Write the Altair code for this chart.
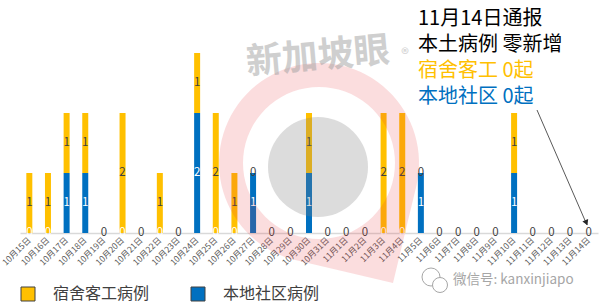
import math
import altair as alt
import pandas as pd

FONT = "Noto Sans CJK SC"

dates = ["10月15日", "10月16日", "10月17日", "10月18日", "10月19日", "10月20日",
         "10月21日", "10月22日", "10月23日", "10月24日", "10月25日", "10月26日",
         "10月27日", "10月28日", "10月29日", "10月30日", "10月31日", "11月1日",
         "11月2日", "11月3日", "11月4日", "11月5日", "11月6日", "11月7日",
         "11月8日", "11月9日", "11月10日", "11月11日", "11月12日", "11月13日",
         "11月14日"]
dorm = [1, 1, 1, 1, 0, 2, 0, 1, 0, 1, 2, 1, 0, 0, 0, 1, 0, 0, 0, 2, 2, 0, 0, 0, 0, 0, 1, 0, 0, 0, 0]
comm = [0, 0, 1, 1, 0, 0, 0, 0, 0, 2, 0, 0, 1, 0, 0, 1, 0, 0, 0, 0, 0, 1, 0, 0, 0, 0, 1, 0, 0, 0, 0]
series = ["宿舍客工病例", "本地社区病例"]
colors = ["#FFC000", "#0070C0"]

title_lines = ["11月14日通报", "本土病例 零新增", "宿舍客工 0起", "本地社区 0起"]
title_colors = ["#000000", "#000000", "#FFC000", "#0070C0"]

rows = []
for d, a, b in zip(dates, dorm, comm):
    rows.append({"date": d, "series": series[1], "value": b, "ord": 0})
    rows.append({"date": d, "series": series[0], "value": a, "ord": 1})
df = pd.DataFrame(rows)

W, H = 578, 198

xenc = alt.X("date:N", sort=dates,
             scale=alt.Scale(paddingInner=0, paddingOuter=0),
             axis=alt.Axis(title=None, labelAngle=-45, labelAlign="right",
                           labelBaseline="middle", labelFontSize=8.5,
                           labelColor="#595959", labelFont=FONT, ticks=False,
                           labelPadding=5, domainColor="#D9D9D9",
                           domainWidth=1.5, grid=False))
yscale = alt.Scale(domain=[0, 3.3])

base = alt.Chart(df).transform_stack(
    stack="value", as_=["v0", "v1"], groupby=["date"],
    sort=[alt.SortField("ord", order="ascending")]
).transform_calculate(mid="(datum.v0 + datum.v1) / 2")

bars = base.mark_bar(size=6).encode(
    x=xenc,
    y=alt.Y("v0:Q", scale=yscale, axis=None),
    y2="v1:Q",
    color=alt.Color("series:N", scale=alt.Scale(domain=series, range=colors),
                    legend=alt.Legend(title=None, orient="none", legendX=0, legendY=251,
                                      direction="horizontal", symbolType="square",
                                      symbolSize=196, symbolStrokeColor="#404040",
                                      symbolStrokeWidth=1, labelFontSize=16,
                                      labelFont=FONT, labelColor="#404040",
                                      labelOffset=17, columnPadding=39, padding=0,
                                      symbolOpacity=1)),
)

lab_comm = base.transform_filter(alt.datum.ord == 0).mark_text(
    fontSize=11.5, font=FONT, color="white", baseline="middle").encode(
    x=alt.X("date:N", sort=dates),
    y=alt.Y("mid:Q", scale=yscale, axis=None), text="value:Q")
lab_dorm = base.transform_filter(alt.datum.ord == 1).mark_text(
    fontSize=11.5, font=FONT, color="#404040", baseline="middle").encode(
    x=alt.X("date:N", sort=dates),
    y=alt.Y("mid:Q", scale=yscale, axis=None), text="value:Q")

one = pd.DataFrame({"k": [0]})

layers = [bars, lab_comm, lab_dorm]

# title annotation block (top right)
for i, (t, c) in enumerate(zip(title_lines, title_colors)):
    layers.append(alt.Chart(one).mark_text(
        text=t, fontSize=20, font=FONT, color=c, align="left", baseline="middle"
    ).encode(x=alt.value(398), y=alt.value(-16 + 26 * i)))

# arrow
layers.append(alt.Chart(one).mark_rule(color="#595959", strokeWidth=1).encode(
    x=alt.value(517), y=alt.value(75), x2=alt.value(567), y2=alt.value(190)))
layers.append(alt.Chart(one).mark_point(shape="triangle", filled=True, size=40,
                                        angle=156, color="#262626", opacity=1).encode(
    x=alt.value(566), y=alt.value(187)))

# watermark: pin ring (polygon outline with hole)
R, r = 100.0, 76.0
tx, ty = 74.0, 120.0
dd = math.hypot(tx, ty)
phi = math.atan2(ty, tx)
al = math.acos(R / dd)
a_start = phi + al
a_end = phi - al + 2 * math.pi
n = 72
outer = [(R * math.cos(a_start + (a_end - a_start) * k / n),
          R * math.sin(a_start + (a_end - a_start) * k / n)) for k in range(n + 1)]
pts = outer + [(tx, ty)]
pin = "M" + " L".join(f"{x:.2f},{y:.2f}" for x, y in pts) + " Z"
inner = [(r * math.cos(-2 * math.pi * k / n), r * math.sin(-2 * math.pi * k / n)) for k in range(n)]
pin += " M" + " L".join(f"{x:.2f},{y:.2f}" for x, y in inner) + " Z"
layers.append(alt.Chart(one).mark_point(shape=pin, size=4, filled=True,
                                        color="#E8353B", opacity=0.17, strokeWidth=0).encode(
    x=alt.value(299), y=alt.value(128)))
layers.append(alt.Chart(one).mark_point(shape="circle", size=10000, filled=True,
                                        color="#808080", opacity=0.28, strokeWidth=0).encode(
    x=alt.value(298), y=alt.value(132)))
layers.append(alt.Chart(one).mark_text(text="新加坡眼", fontSize=36, font=FONT,
                                       fontWeight="bold", color="#A0A0A0", opacity=0.5,
                                       angle=355, baseline="middle").encode(
    x=alt.value(298), y=alt.value(22)))
layers.append(alt.Chart(one).mark_text(text="®", fontSize=16, font=FONT,
                                       color="#A0A0A0", opacity=0.5, baseline="middle").encode(
    x=alt.value(385), y=alt.value(20)))

# wechat id watermark
layers.append(alt.Chart(one).mark_point(shape="circle", size=324, filled=False,
                                        color="#A6A6A6", strokeWidth=1, opacity=1).encode(
    x=alt.value(411), y=alt.value(242)))
layers.append(alt.Chart(one).mark_point(shape="circle", size=225, filled=True,
                                        fill="white", stroke="#A6A6A6", strokeWidth=1,
                                        opacity=1).encode(
    x=alt.value(420), y=alt.value(250)))
layers.append(alt.Chart(one).mark_text(text="微信号: kanxinjiapo", fontSize=13.5,
                                       font=FONT, color="#A6A6A6", align="left",
                                       baseline="middle").encode(
    x=alt.value(433), y=alt.value(245)))

chart = alt.layer(*layers).properties(
    width=W, height=H,
    autosize=alt.AutoSizeParams(type="none"),
    padding={"left": 20, "top": 35, "right": 4, "bottom": 74},
).configure(font=FONT, background="white",
            view=alt.ViewConfig(stroke="transparent", strokeWidth=0))

chart.save("out.html", embed_options={"renderer": "svg", "actions": False})
